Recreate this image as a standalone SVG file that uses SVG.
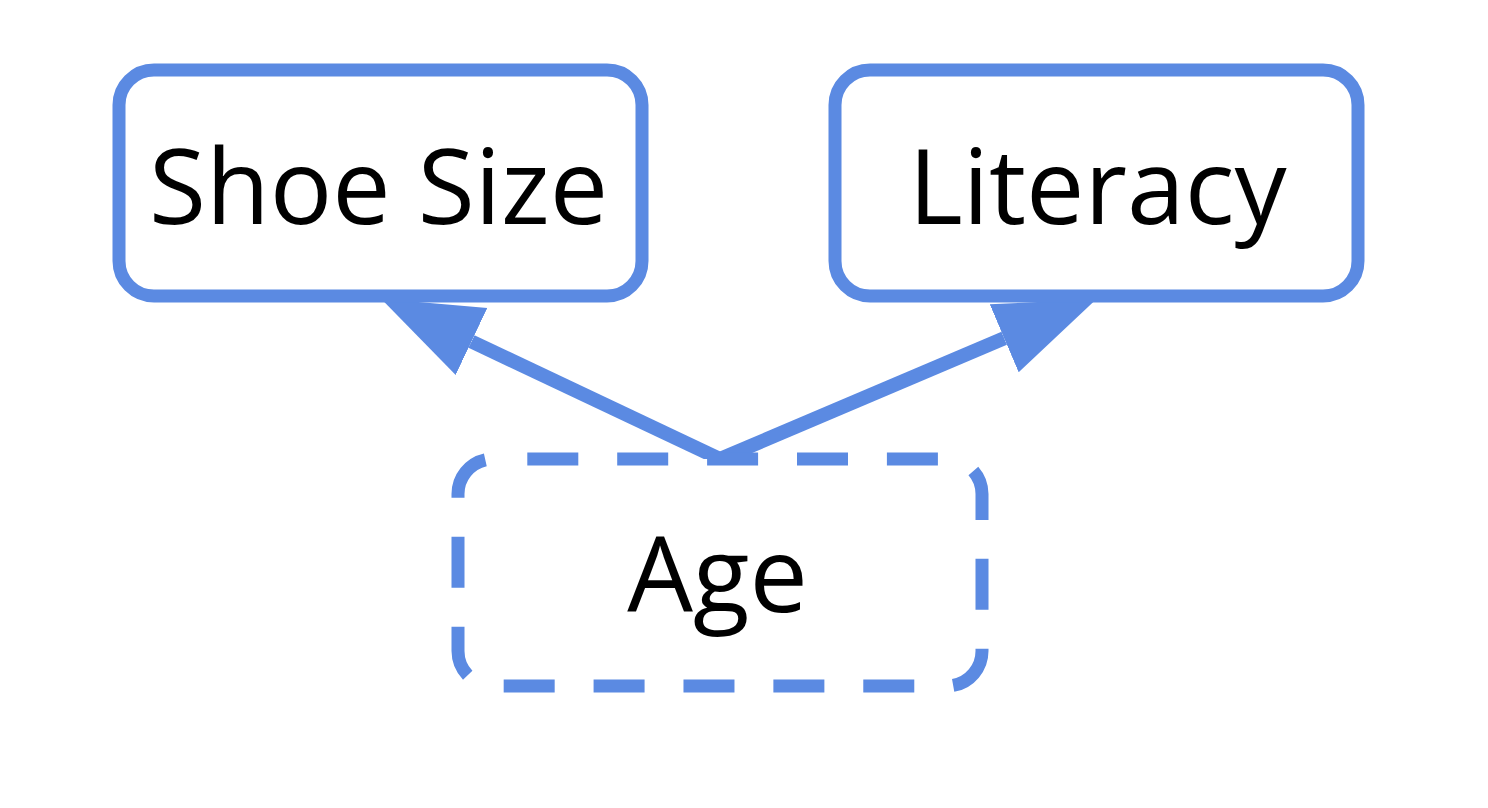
<svg xmlns="http://www.w3.org/2000/svg" width="1488" height="808" viewBox="0 0 1488 808">
<style>
.box{fill:#ffffff;stroke:#5b8ae2;stroke-width:13}
.dashed{stroke-dasharray:51 38.9;stroke-dashoffset:-34.3}
.edge{stroke:#5b8ae2;stroke-width:14;fill:none}
.lbl{font-family:"Open Sans","Noto Sans",sans-serif;font-size:104px;fill:#000000;text-anchor:middle}
</style>
<defs>
<marker id="arr" markerUnits="userSpaceOnUse" markerWidth="104" markerHeight="80" viewBox="0 -40 104 80" refX="0" refY="0" orient="auto">
<path d="M0,-37 L100,0 L0,37 Z" fill="#5b8ae2"/>
</marker>
</defs>
<rect width="1488" height="808" fill="#ffffff"/>
<g id="connectors">
<line class="edge" x1="720" y1="459" x2="471.5" y2="341.5" marker-end="url(#arr)"/>
<line class="edge" x1="720" y1="459" x2="1004.2" y2="338.3" marker-end="url(#arr)"/>
</g>
<g id="node-shoe-size">
<rect class="box" x="119" y="70" width="523" height="226" rx="35"/>
<text class="lbl" x="378.5" y="224">Shoe Size</text>
</g>
<g id="node-literacy">
<rect class="box" x="835" y="70" width="523" height="226" rx="35"/>
<text class="lbl" x="1097.5" y="224">Literacy</text>
</g>
<g id="node-age">
<rect class="box dashed" x="458" y="459" width="524" height="227" rx="35"/>
<text class="lbl" x="717.5" y="612">Age</text>
</g>
</svg>
